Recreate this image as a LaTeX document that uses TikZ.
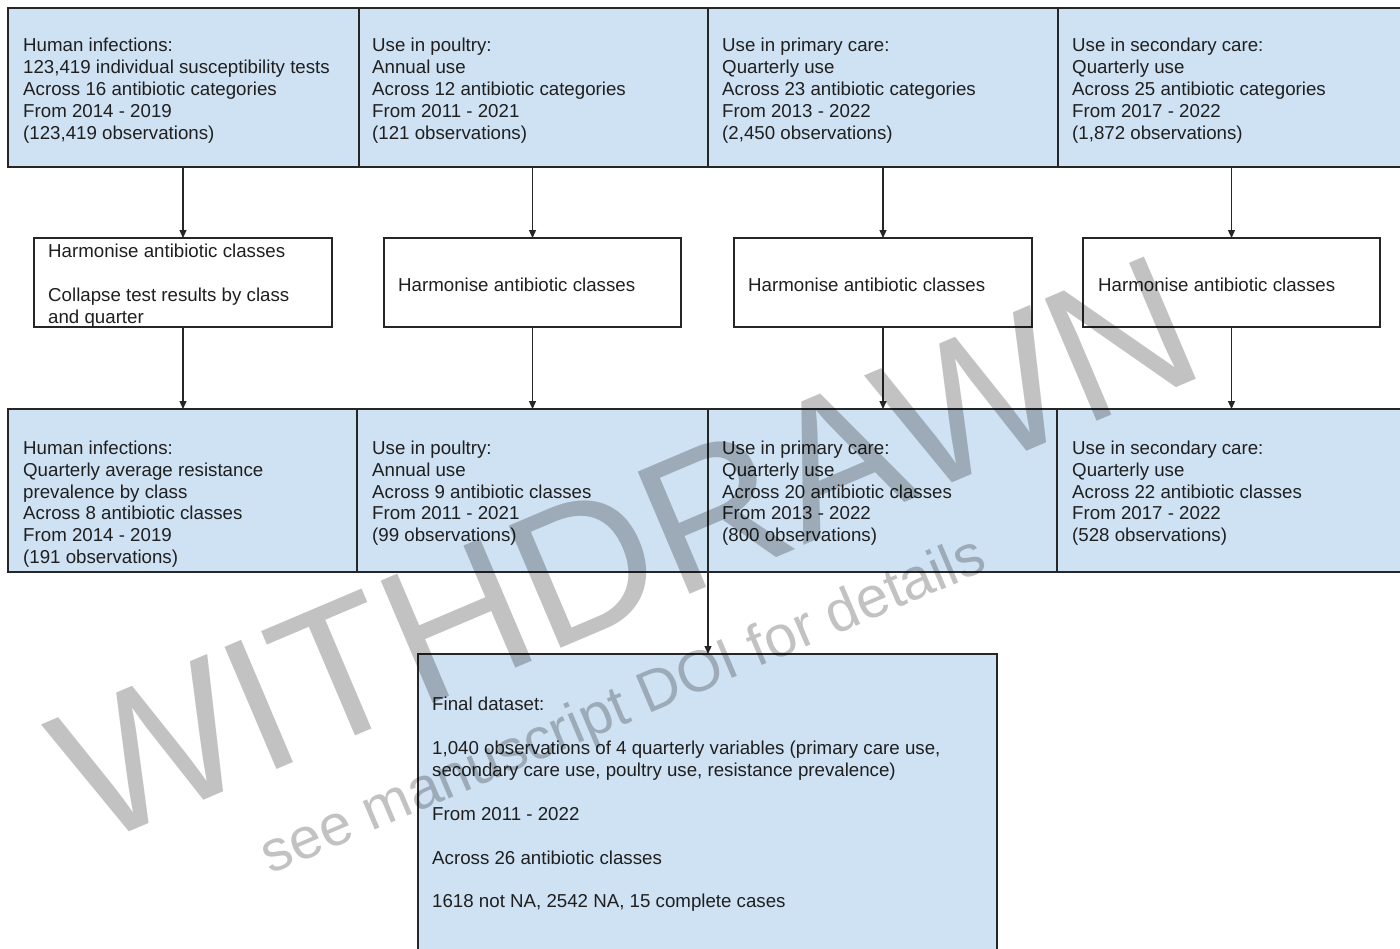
\documentclass[tikz,border=0pt]{standalone}
\usepackage{fontspec}
\setmainfont{Liberation Sans}
\usetikzlibrary{arrows.meta,calc}
\definecolor{boxblue}{HTML}{CFE2F3}
\newcommand\dfont{\fontsize{18.7}{21.9}\selectfont}
\begin{document}
\begin{tikzpicture}[x=1pt,y=-1pt,
  box/.style={draw=black!85, line width=1.2pt, fill=boxblue, anchor=north west, inner sep=0pt, outer sep=0pt},
  wbox/.style={draw=black!85, line width=1.2pt, fill=white, anchor=north west, inner sep=0pt, outer sep=0pt},
  txt/.style={anchor=north west, inner sep=0pt, align=left, font=\dfont, text=black!88, execute at begin node={\rule{0pt}{14pt}}},
  arr/.style={line width=1.2pt, draw=black!85, -{Triangle[length=8pt,width=7pt]}},
  wm/.style={text=black, opacity=0.24, inner sep=0pt, anchor=base, rotate=23}
]
\useasboundingbox (0,0) rectangle (1400,948);
\clip (0,0) rectangle (1400,948);
\fill[white] (0,0) rectangle (1400,948);

% top row
\node[box, minimum width=351pt, minimum height=159pt] (t1) at (8,8) {};
\node[box, minimum width=349pt, minimum height=159pt] (t2) at (359,8) {};
\node[box, minimum width=350pt, minimum height=159pt] (t3) at (708,8) {};
\node[box, minimum width=350pt, minimum height=159pt] (t4) at (1058,8) {};
\node[txt] (t1x) at (23,38) {Human infections:\\123,419 individual susceptibility tests\\Across 16 antibiotic categories\\From 2014 - 2019\\(123,419 observations)};
\node[txt] (t2x) at (372,38) {Use in poultry:\\Annual use\\Across 12 antibiotic categories\\From 2011 - 2021\\(121 observations)};
\node[txt] (t3x) at (722,38) {Use in primary care:\\Quarterly use\\Across 23 antibiotic categories\\From 2013 - 2022\\(2,450 observations)};
\node[txt] (t4x) at (1072,38) {Use in secondary care:\\Quarterly use\\Across 25 antibiotic categories\\From 2017 - 2022\\(1,872 observations)};

% middle row
\node[wbox, minimum width=298pt, minimum height=89pt] (m1) at (34,238) {};
\node[wbox, minimum width=297pt, minimum height=89pt] (m2) at (384,238) {};
\node[wbox, minimum width=298pt, minimum height=89pt] (m3) at (734,238) {};
\node[wbox, minimum width=297pt, minimum height=89pt] (m4) at (1083,238) {};
\node[txt] (m1x) at (48,244) {Harmonise antibiotic classes\\[21.9pt]Collapse test results by class\\and quarter};
\node[txt] (m2x) at (398,277) {Harmonise antibiotic classes};
\node[txt] (m3x) at (748,277) {Harmonise antibiotic classes};
\node[txt] (m4x) at (1098,277) {Harmonise antibiotic classes};

% bottom row
\node[box, minimum width=349pt, minimum height=163pt] (b1) at (8,409) {};
\node[box, minimum width=351pt, minimum height=163pt] (b2) at (357,409) {};
\node[box, minimum width=349pt, minimum height=163pt] (b3) at (708,409) {};
\node[box, minimum width=351pt, minimum height=163pt] (b4) at (1057,409) {};
\node[txt] (b1x) at (23,440.5) {Human infections:\\Quarterly average resistance\\prevalence by class\\Across 8 antibiotic classes\\From 2014 - 2019\\(191 observations)};
\node[txt] (b2x) at (372,440.5) {Use in poultry:\\Annual use\\Across 9 antibiotic classes\\From 2011 - 2021\\(99 observations)};
\node[txt] (b3x) at (722,440.5) {Use in primary care:\\Quarterly use\\Across 20 antibiotic classes\\From 2013 - 2022\\(800 observations)};
\node[txt] (b4x) at (1072,440.5) {Use in secondary care:\\Quarterly use\\Across 22 antibiotic classes\\From 2017 - 2022\\(528 observations)};

% final box
\node[box, minimum width=579pt, minimum height=300pt] (f) at (418,654) {};
\node[txt] (fx) at (432,697) {Final dataset:\\[21.9pt]1,040 observations of 4 quarterly variables (primary care use,\\secondary care use, poultry use, resistance prevalence)\\[21.9pt]From 2011 - 2022\\[21.9pt]Across 26 antibiotic classes\\[21.9pt]1618 not NA, 2542 NA, 15 complete cases};

% connectors
\draw[arr] (m1.north |- t1.south) -- (m1.north);
\draw[arr] (m2.north |- t2.south) -- (m2.north);
\draw[arr] (m3.north |- t3.south) -- (m3.north);
\draw[arr] (m4.north |- t4.south) -- (m4.north);
\draw[arr] (m1.south) -- (m1.south |- b1.north);
\draw[arr] (m2.south) -- (m2.south |- b2.north);
\draw[arr] (m3.south) -- (m3.south |- b3.north);
\draw[arr] (m4.south) -- (m4.south |- b4.north);
\draw[arr] (b2.south east) -- (b2.south east |- f.north);

% watermark
\node[wm, font=\fontsize{193}{193}\selectfont] (wm1) at (652,610) {WITHDRAWN};
\node[wm, font=\fontsize{58}{58}\selectfont] (wm2) at (630,722) {see manuscript DOI for details};
\end{tikzpicture}
\end{document}
